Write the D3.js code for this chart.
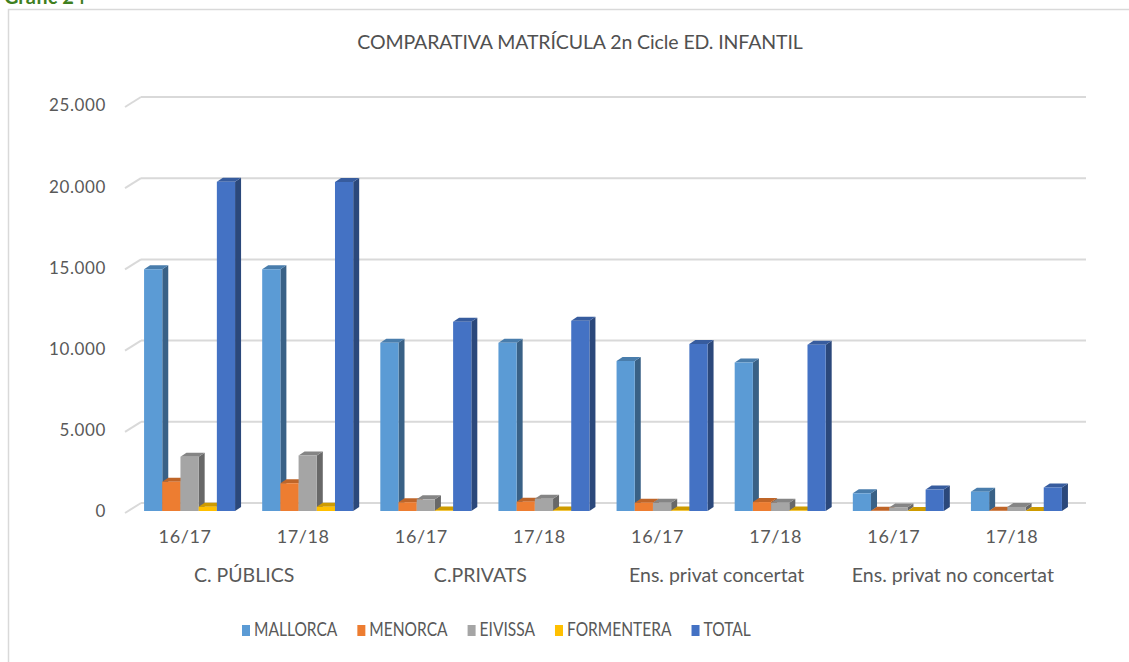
<!DOCTYPE html>
<html>
<head>
<meta charset="utf-8">
<script src="https://cdn.jsdelivr.net/npm/d3@7"></script>
<style>
  html, body { margin: 0; padding: 0; background: #ffffff; }
  svg { display: block; }
  text { font-family: Lato, "Open Sans", sans-serif; }
</style>
</head>
<body>
<svg id="chart" width="1129" height="662"></svg>
<script>
// ---- data ----
const groups = ["C. PÚBLICS", "C.PRIVATS", "Ens. privat concertat", "Ens. privat no concertat"];
const years = ["16/17", "17/18"];
const series = ["MALLORCA", "MENORCA", "EIVISSA", "FORMENTERA", "TOTAL"];
// values per category (group x year), in series order
const mallorca   = [14880, 14880, 10360, 10360, 9240, 9150, 1090, 1190];
const menorca    = [1800, 1710, 540, 570, 510, 550, 10, 10];
const eivissa    = [3340, 3410, 720, 760, 510, 510, 220, 250];
const formentera = [260, 260, 30, 30, 30, 30, 0, 0];
const total      = [20280, 20260, 11650, 11720, 10290, 10240, 1320, 1450];
const yTicks = [0, 5000, 10000, 15000, 20000, 25000];
const chartTitle = "COMPARATIVA MATRÍCULA 2n Cicle ED. INFANTIL";
const figLabel = "Gràfic 24";

const seriesValues = [mallorca, menorca, eivissa, formentera, total];
const colors = ["#5B9BD5", "#ED7D31", "#A5A5A5", "#FFC000", "#4472C4"];

// ---- setup ----
const svg = d3.select("#chart");
const W = 1129, H = 662;
const textColor = "#595959";

svg.append("rect").attr("x", 0).attr("y", 0).attr("width", W).attr("height", H).attr("fill", "#fff");

// figure label (cut off at top, as in the source page)
svg.append("text").attr("x", 4).attr("y", 4)
  .attr("font-size", 20).attr("font-weight", "bold").attr("fill", "#3f7f1f")
  .text(figLabel);

// chart area border
svg.append("rect").attr("x", 8.5).attr("y", 9.5).attr("width", W + 20).attr("height", H + 20)
  .attr("fill", "none").attr("stroke", "#d9d9d9").attr("stroke-width", 1.5);

// title
svg.append("text").attr("x", 580).attr("y", 44)
  .attr("text-anchor", "middle").attr("dominant-baseline", "middle")
  .attr("font-size", 19.5).attr("fill", "#505050").attr("letter-spacing", -0.1)
  .text(chartTitle);

// categories
const cats = [];
groups.forEach(g => years.forEach(yr => cats.push({ group: g, year: yr, key: g + "|" + yr })));

const x = d3.scaleBand().domain(cats.map(c => c.key)).range([126, 1071]).padding(0);
const y = d3.scaleLinear().domain([0, 25000]).range([513, 107]);

// 3D projection: full depth offset
const DX = 15, DY = -10;
const P = (px, py, f) => [px + DX * f, py + DY * f];

// gridlines (side wall diagonals + back wall horizontals)
const grid = svg.append("g");
yTicks.forEach(t => {
  const [x0, y0] = [x.range()[0], y(t)];
  const [bx, by] = P(x0, y0, 1);
  const [ex] = P(x.range()[1], y0, 1);
  grid.append("line").attr("x1", x0 - 1).attr("y1", y0).attr("x2", bx).attr("y2", by)
    .attr("stroke", "#d9d9d9").attr("stroke-width", 2);
  grid.append("line").attr("x1", bx).attr("y1", by).attr("x2", ex).attr("y2", by)
    .attr("stroke", "#d9d9d9").attr("stroke-width", 2);
});

// y axis labels
const fmt = v => d3.format(",")(v).replace(/,/g, ".");
svg.append("g").selectAll("text").data(yTicks).join("text")
  .attr("x", 106).attr("y", d => y(d))
  .attr("text-anchor", "end").attr("dominant-baseline", "middle")
  .attr("font-size", 17).attr("fill", textColor).attr("letter-spacing", 0.6)
  .text(d => fmt(d));

// bars
const barW = 18.2;
const F0 = 0.2, F1 = 0.6;
const bars = svg.append("g");
const darker = (c, k) => d3.color(c).darker(k).formatHex();

cats.forEach((c, i) => {
  const cx = x(c.key) + x.bandwidth() / 2;
  const startX = cx - 44;
  seriesValues.forEach((vals, j) => {
    const v = vals[i];
    const xl = startX + j * barW, xr = xl + barW;
    const yb = y(0), yt = y(v);
    const fbl = P(xl, yb, F0), fbr = P(xr, yb, F0), ftl = P(xl, yt, F0), ftr = P(xr, yt, F0);
    const bbr = P(xr, yb, F1), btl = P(xl, yt, F1), btr = P(xr, yt, F1);
    const col = colors[j];
    bars.append("path")
      .attr("d", d3.line()([fbr, bbr, btr, ftr]) + "Z")
      .attr("fill", darker(col, 1.3));
    bars.append("path")
      .attr("d", d3.line()([ftl, ftr, btr, btl]) + "Z")
      .attr("fill", darker(col, 0.6));
    bars.append("path")
      .attr("d", d3.line()([fbl, fbr, ftr, ftl]) + "Z")
      .attr("fill", col);
  });
});

// category labels
svg.append("g").selectAll("text").data(cats).join("text")
  .attr("x", d => x(d.key) + x.bandwidth() / 2).attr("y", 538)
  .attr("text-anchor", "middle").attr("dominant-baseline", "middle")
  .attr("font-size", 18).attr("fill", textColor).attr("letter-spacing", 0.6)
  .text(d => d.year);

svg.append("g").selectAll("text").data(groups).join("text")
  .attr("x", g => {
    const k0 = g + "|" + years[0], k1 = g + "|" + years[years.length - 1];
    return (x(k0) + x(k1) + x.bandwidth()) / 2;
  })
  .attr("y", 577)
  .attr("text-anchor", "middle").attr("dominant-baseline", "middle")
  .attr("font-size", 19.5).attr("fill", textColor)
  .text(g => g);

// legend (condensed to mimic the narrow original face)
const legend = svg.append("g");
let lx = 242;
series.forEach((s, j) => {
  legend.append("rect").attr("x", lx).attr("y", 625).attr("width", 8).attr("height", 11).attr("fill", colors[j]);
  const t = legend.append("text").attr("x", lx + 12).attr("y", 631)
    .attr("dominant-baseline", "middle").attr("font-size", 18.5).attr("fill", textColor)
    .text(s);
  const w = t.node().getComputedTextLength() * 0.84;
  t.attr("textLength", w).attr("lengthAdjust", "spacingAndGlyphs");
  lx += 12 + w + 20;
});
</script>
</body>
</html>
